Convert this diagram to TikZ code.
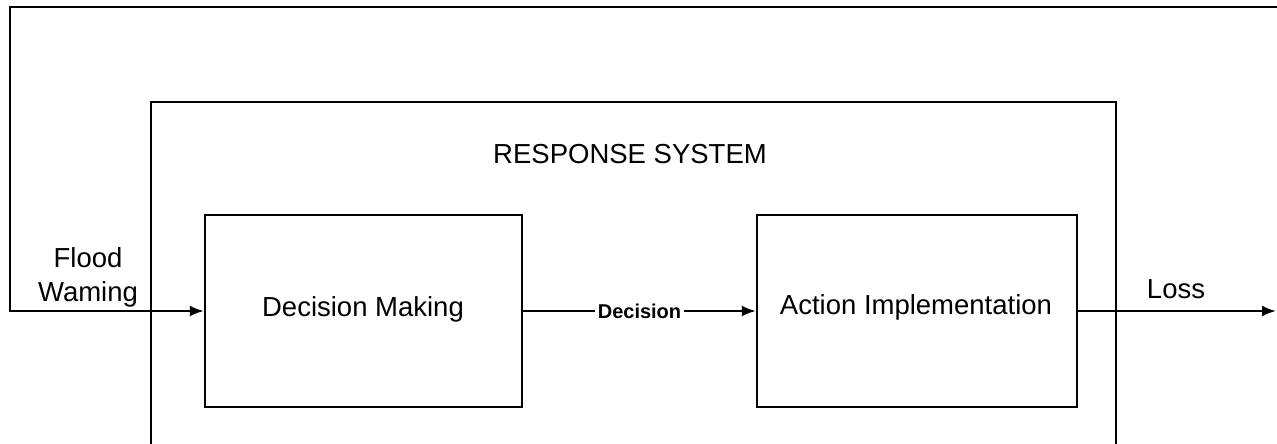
\documentclass[tikz,border=0pt]{standalone}
\usepackage{fontspec}
\setmainfont{Liberation Sans}
\usetikzlibrary{arrows.meta}
\begin{document}
\begin{tikzpicture}[x=1pt,y=-1pt,
  ln/.style={line width=2.3pt},
  arr/.style={ln,-{Latex[length=14pt,width=11pt]}},
  blk/.style={draw,line width=2.3pt,rectangle,minimum width=317pt,minimum height=192pt,inner sep=0pt},
  big/.style={font=\fontsize{27.5}{34}\selectfont},
  lbl/.style={big,inner sep=0pt,align=center}]
\useasboundingbox (0,0) rectangle (1277,444);
% outer response-system box (open at the bottom edge)
\coordinate (obl) at (151,444);
\coordinate (otl) at (151,102);
\coordinate (otr) at (1116,102);
\coordinate (obr) at (1116,444);
\draw[ln] (obl) -- (otl) -- (otr) -- (obr);
\node[lbl] (title) at (630,154) {RESPONSE SYSTEM};
% blocks
\node[blk] (dm) at (363.5,311) {};
\node[lbl] (dmt) at (363,309) {Decision Making};
\node[blk,minimum width=320pt] (ai) at (917,311) {};
\node[lbl] (ait) at (916,307) {Action Implementation};
% feedback / flood warning line
\coordinate (tr) at (1277,7);
\coordinate (tl) at (10,7);
\coordinate (fw) at (10,311);
\draw[arr] (tr) -- (tl) -- (fw) -- (dm.west);
\node[lbl] (fwl) at (88,277) {Flood\\Waming};
% decision arrow
\draw[arr] (dm.east) -- node[pos=0.5,fill=white,inner xsep=3pt,inner ysep=1pt,font=\fontsize{20}{24}\selectfont\bfseries] (dec) {Decision} (ai.west);
% loss arrow
\coordinate (lossend) at (1276,311);
\draw[arr] (ai.east) -- (lossend);
\node[lbl] (loss) at (1176,289) {Loss};
\end{tikzpicture}
\end{document}
